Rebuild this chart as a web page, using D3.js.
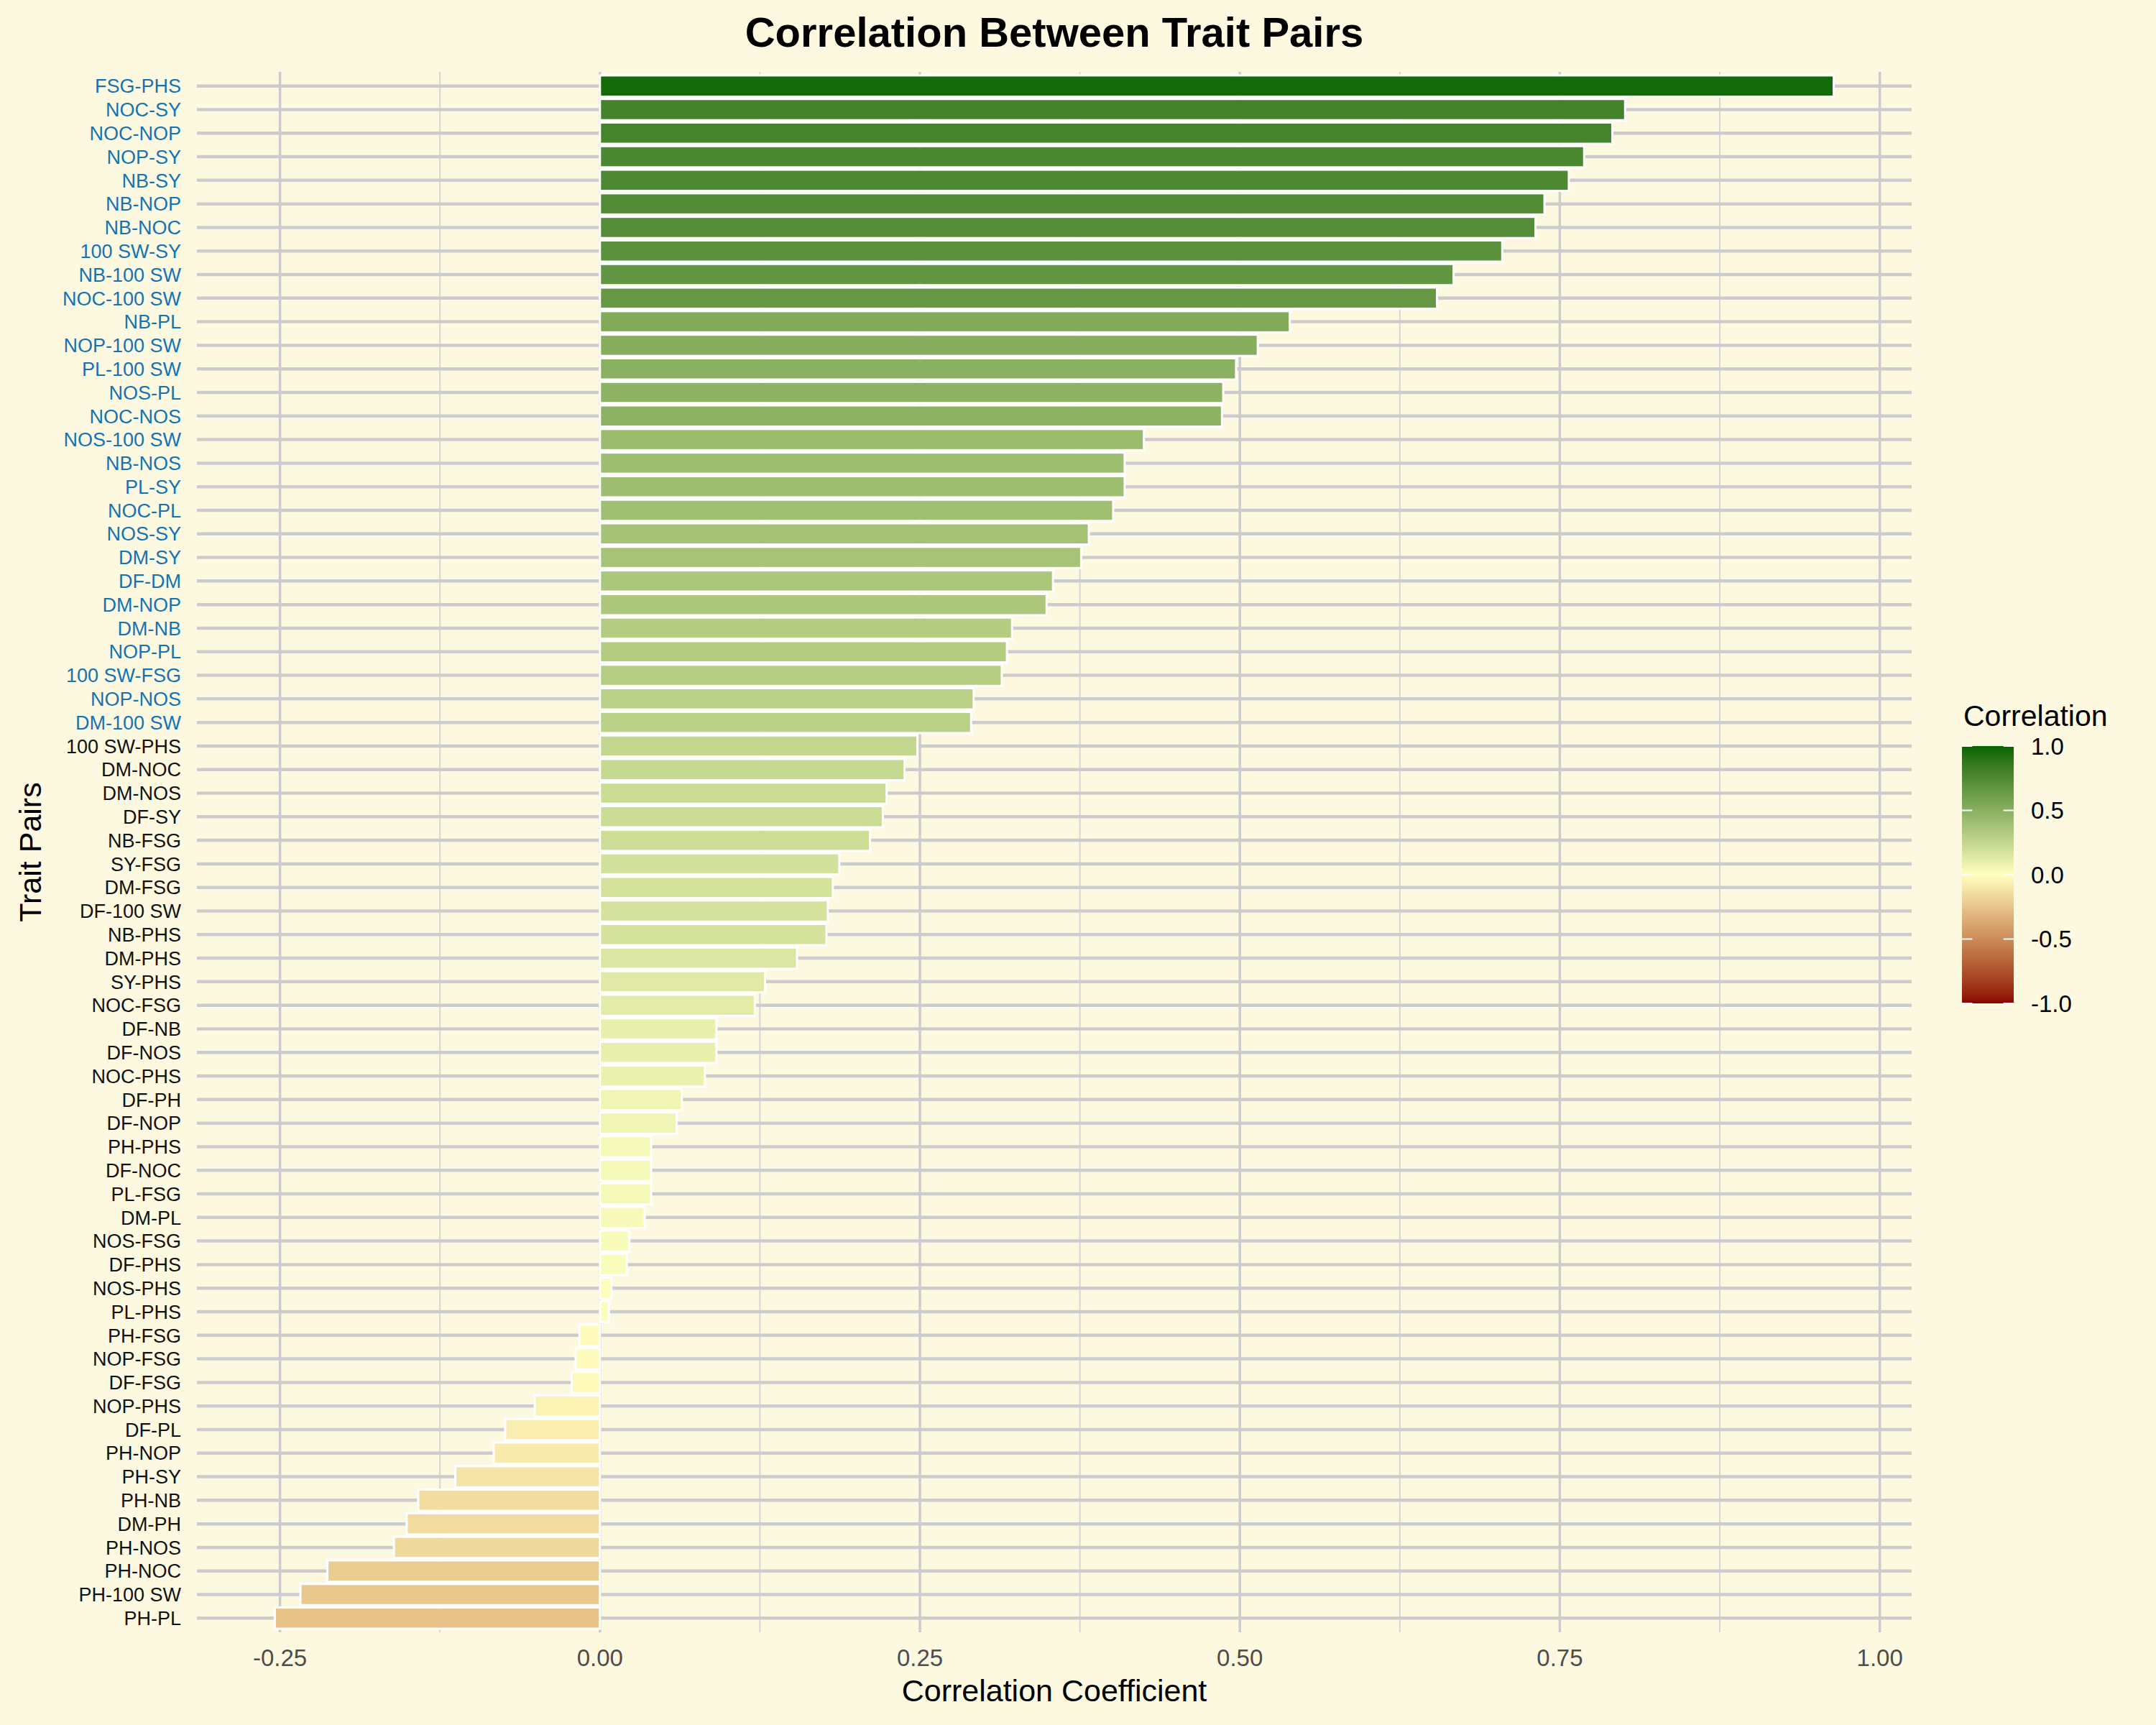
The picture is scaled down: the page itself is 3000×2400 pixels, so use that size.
<!DOCTYPE html>
<html><head><meta charset="utf-8">
<script src="https://cdn.jsdelivr.net/npm/d3@7"></script>
<style>
  html,body{margin:0;padding:0;background:#fdf9e1;}
  svg text{font-family:"Liberation Sans", Arial, Helvetica, sans-serif;}
</style>
</head><body>
<svg id="chart" width="3000" height="2400"></svg>
<script>
// ---- data (top-to-bottom order as in the chart) ----
const traitPairs = [
  "FSG-PHS","NOC-SY","NOC-NOP","NOP-SY","NB-SY","NB-NOP","NB-NOC","100 SW-SY","NB-100 SW","NOC-100 SW",
  "NB-PL","NOP-100 SW","PL-100 SW","NOS-PL","NOC-NOS","NOS-100 SW","NB-NOS","PL-SY","NOC-PL","NOS-SY",
  "DM-SY","DF-DM","DM-NOP","DM-NB","NOP-PL","100 SW-FSG","NOP-NOS","DM-100 SW","100 SW-PHS","DM-NOC",
  "DM-NOS","DF-SY","NB-FSG","SY-FSG","DM-FSG","DF-100 SW","NB-PHS","DM-PHS","SY-PHS","NOC-FSG",
  "DF-NB","DF-NOS","NOC-PHS","DF-PH","DF-NOP","PH-PHS","DF-NOC","PL-FSG","DM-PL","NOS-FSG",
  "DF-PHS","NOS-PHS","PL-PHS","PH-FSG","NOP-FSG","DF-FSG","NOP-PHS","DF-PL","PH-NOP","PH-SY",
  "PH-NB","DM-PH","PH-NOS","PH-NOC","PH-100 SW","PH-PL"
];
const correlations = [
  0.964,0.801,0.791,0.769,0.757,0.738,0.731,0.705,0.667,0.654,
  0.539,0.514,0.497,0.487,0.486,0.425,0.410,0.410,0.401,0.382,
  0.376,0.354,0.349,0.322,0.318,0.314,0.292,0.290,0.248,0.238,
  0.224,0.221,0.211,0.187,0.182,0.178,0.177,0.154,0.129,0.121,
  0.091,0.091,0.082,0.064,0.060,0.040,0.040,0.040,0.035,0.023,
  0.021,0.009,0.007,-0.016,-0.019,-0.022,-0.051,-0.074,-0.083,-0.113,
  -0.142,-0.151,-0.161,-0.213,-0.234,-0.254
];
// pairs whose label is highlighted (blue) in the chart
const highlightedPairs = traitPairs.slice(0, 28);
const xTickValues = [-0.25, 0, 0.25, 0.5, 0.75, 1.0];
const xTickLabels = ["-0.25", "0.00", "0.25", "0.50", "0.75", "1.00"];
const xMinorValues = [-0.125, 0.125, 0.375, 0.625, 0.875];
const legendTickValues = [1.0, 0.5, 0.0, -0.5, -1.0];
const legendTickLabels = ["1.0", "0.5", "0.0", "-0.5", "-1.0"];

const data = traitPairs.map((p, i) => ({pair: p, r: correlations[i]}));

// ---- layout ----
const W = 3000, H = 2400;
const panel = {left: 274, right: 2660, top: 100, bottom: 2271};
const bg = "#fdf9e1";
const gridCol = "#cccccc";

const svg = d3.select("#chart");
svg.append("rect").attr("width", W).attr("height", H).attr("fill", bg);

const ext = d3.extent(correlations);
const pad = (ext[1] - ext[0]) * 0.05;
const x = d3.scaleLinear().domain([ext[0] - pad, ext[1] + pad]).range([panel.left, panel.right]);
const y = d3.scaleBand().domain(traitPairs).range([panel.top, panel.bottom]).paddingInner(0.1).paddingOuter(0.15);

const color = d3.scaleLinear().domain([-1, 0, 1])
  .range(["#8B0000", "#FFFFBF", "#006400"]).interpolate(d3.interpolateLab).clamp(true);

// grid
const g = svg.append("g");
g.selectAll("line.minor").data(xMinorValues).join("line")
  .attr("x1", d => x(d)).attr("x2", d => x(d))
  .attr("y1", panel.top).attr("y2", panel.bottom)
  .attr("stroke", "#d6d6d2").attr("stroke-width", 2);
g.selectAll("line.major").data(xTickValues).join("line")
  .attr("x1", d => x(d)).attr("x2", d => x(d))
  .attr("y1", panel.top).attr("y2", panel.bottom)
  .attr("stroke", gridCol).attr("stroke-width", 3.5);
g.selectAll("line.hgrid").data(traitPairs).join("line")
  .attr("x1", panel.left).attr("x2", panel.right)
  .attr("y1", d => y(d) + y.bandwidth() / 2).attr("y2", d => y(d) + y.bandwidth() / 2)
  .attr("stroke", gridCol).attr("stroke-width", 4.5);

// bars
svg.append("g").selectAll("rect").data(data).join("rect")
  .attr("x", d => x(Math.min(0, d.r)))
  .attr("width", d => Math.abs(x(d.r) - x(0)))
  .attr("y", d => y(d.pair))
  .attr("height", y.bandwidth())
  .attr("fill", d => color(d.r))
  .attr("stroke", "white").attr("stroke-width", 3);

// y axis labels
svg.append("g").selectAll("text").data(traitPairs).join("text")
  .attr("x", 252).attr("y", d => y(d) + y.bandwidth() / 2)
  .attr("dy", "0.36em").attr("text-anchor", "end")
  .attr("font-size", 27)
  .attr("fill", d => highlightedPairs.includes(d) ? "#1473b3" : "#111111")
  .text(d => d);

// x axis labels
svg.append("g").selectAll("text").data(xTickValues).join("text")
  .attr("x", d => x(d)).attr("y", 2318).attr("text-anchor", "middle")
  .attr("font-size", 33).attr("fill", "#4d4d4d")
  .text((d, i) => xTickLabels[i]);

// axis titles
svg.append("text").attr("x", (panel.left + panel.right) / 2).attr("y", 2367)
  .attr("text-anchor", "middle").attr("font-size", 43).attr("fill", "#000")
  .text("Correlation Coefficient");
svg.append("text").attr("transform", `translate(57,${(panel.top + panel.bottom) / 2}) rotate(-90)`)
  .attr("text-anchor", "middle").attr("font-size", 43).attr("fill", "#000")
  .text("Trait Pairs");

// title
svg.append("text").attr("x", (panel.left + panel.right) / 2).attr("y", 65)
  .attr("text-anchor", "middle").attr("font-size", 58).attr("font-weight", "bold")
  .attr("fill", "#000").text("Correlation Between Trait Pairs");

// legend
const leg = {x: 2730, y: 1038, w: 72, h: 358};
const defs = svg.append("defs");
const grad = defs.append("linearGradient").attr("id", "lg").attr("x1", 0).attr("y1", 0).attr("x2", 0).attr("y2", 1);
d3.range(0, 41).forEach(i => {
  const v = 1 - i / 20;
  grad.append("stop").attr("offset", (i / 40 * 100) + "%").attr("stop-color", color(v));
});
svg.append("text").attr("x", leg.x + 2).attr("y", 1010).attr("font-size", 41).attr("fill", "#000").text("Correlation");
svg.append("rect").attr("x", leg.x).attr("y", leg.y).attr("width", leg.w).attr("height", leg.h).attr("fill", "url(#lg)");
const ly = d3.scaleLinear().domain([1, -1]).range([leg.y, leg.y + leg.h]);
const lt = svg.append("g");
legendTickValues.forEach((v, i) => {
  lt.append("line").attr("x1", leg.x).attr("x2", leg.x + leg.w / 5).attr("y1", ly(v)).attr("y2", ly(v))
    .attr("stroke", "white").attr("stroke-width", 2);
  lt.append("line").attr("x1", leg.x + leg.w * 4 / 5).attr("x2", leg.x + leg.w).attr("y1", ly(v)).attr("y2", ly(v))
    .attr("stroke", "white").attr("stroke-width", 2);
  lt.append("text").attr("x", 2826).attr("y", ly(v)).attr("dy", "0.36em")
    .attr("font-size", 33).attr("fill", "#000").text(legendTickLabels[i]);
});
</script>
</body></html>
